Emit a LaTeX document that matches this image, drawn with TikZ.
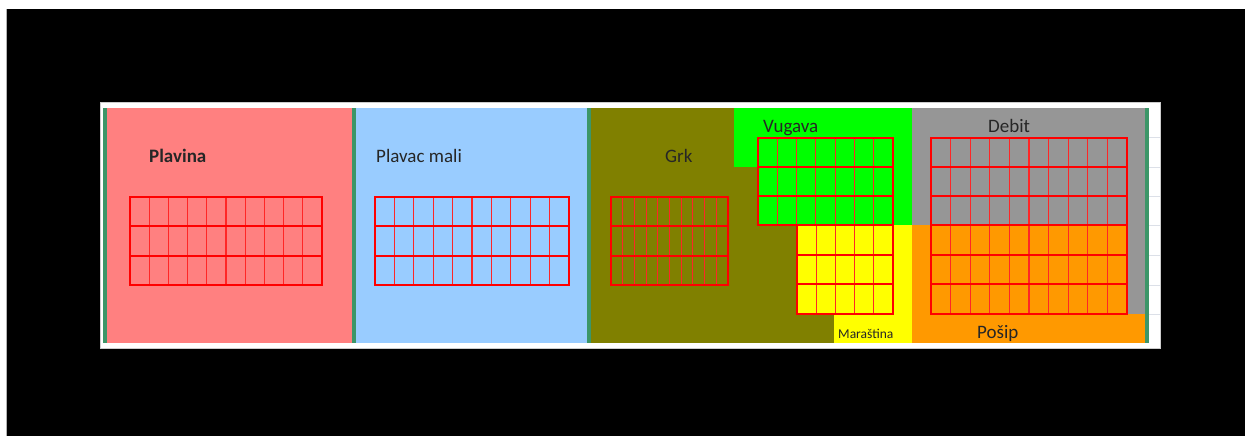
\documentclass[tikz,border=0pt]{standalone}
\usepackage{fontspec}
\setmainfont{Carlito}
\definecolor{cpink}{HTML}{FF8080}
\definecolor{cblue}{HTML}{99CCFF}
\definecolor{colive}{HTML}{808000}
\definecolor{cgreen}{HTML}{00FF00}
\definecolor{cyellow}{HTML}{FFFF00}
\definecolor{cgrey}{HTML}{969696}
\definecolor{corange}{HTML}{FF9900}
\definecolor{csep}{HTML}{3C9668}
\definecolor{ctext}{HTML}{262626}
\definecolor{cfaint}{HTML}{DCE0E8}
\tikzset{
  rowline/.style={draw=red, line width=2pt},
  colline/.style={draw=red!85!white, line width=1.1pt},
  lbl/.style={anchor=base west, inner sep=0pt, text=ctext, font=\fontsize{19}{22}\selectfont},
  smalllbl/.style={anchor=base west, inner sep=0pt, text=ctext, font=\fontsize{13.5}{16}\selectfont},
}
\newcommand\vgrid[6]{%
  \pgfmathtruncatemacro\vgc{#5-1}%
  \pgfmathtruncatemacro\vgr{#6-1}%
  \foreach \k in {1,...,\vgc}{\draw[colline] ({#1+(#3-#1)*\k/#5},#2) -- ({#1+(#3-#1)*\k/#5},#4);}%
  \foreach \k in {1,...,\vgr}{\draw[rowline] (#1,{#2+(#4-#2)*\k/#6}) -- (#3,{#2+(#4-#2)*\k/#6});}%
  \draw[rowline] (#1,#2) rectangle (#3,#4);%
}
\begin{document}
\begin{tikzpicture}[x=1pt,y=-1pt]
\useasboundingbox (0,0) rectangle (1245,436);
\fill[white] (0,0) rectangle (1245,436);
\fill[black] (7,9) rectangle (1245,436);
\fill[gray!60] (5.5,9) rectangle (7,436);
% panel
\fill[white] (100,102) rectangle (1160,348);
\draw[gray!40, line width=0.6pt] (100,102) rectangle (1160,348);
\foreach \yy in {137,167,196,225,255,285,314}{\draw[cfaint, line width=0.8pt] (1149,\yy) -- (1160,\yy);}
% colour regions
\fill[cpink] (107,108) rectangle (352,343);
\fill[cblue] (356,108) rectangle (587,343);
\fill[colive] (591,108) rectangle (912,343);
\fill[cgreen] (734,108) rectangle (912,167);
\fill[cgreen] (758,167) rectangle (912,225);
\fill[cyellow] (797,225) rectangle (912,314);
\fill[cyellow] (834,314) rectangle (912,343);
\fill[cgrey] (912,108) rectangle (1145,225);
\fill[cgrey] (1127,225) rectangle (1145,314);
\fill[corange] (912,225) rectangle (1127,314);
\fill[corange] (912,314) rectangle (1145,343);
% separators
\fill[csep] (103,108) rectangle (107,343);
\fill[csep] (352,108) rectangle (356,343);
\fill[csep] (587,108) rectangle (591,343);
\fill[csep] (1145,108) rectangle (1149,343);
% grids
\vgrid{130}{197}{322}{285}{10}{3}
\vgrid{375}{197}{569}{285}{10}{3}
\vgrid{611}{197}{728}{285}{10}{3}
\vgrid{758}{138}{893}{225}{7}{3}
\vgrid{797}{225}{893}{314}{5}{3}
\vgrid{931}{138}{1127}{225}{10}{3}
\vgrid{931}{225}{1127}{314}{10}{3}
% labels
\node[lbl, font=\fontsize{19}{22}\selectfont\bfseries] (plavina) at (149,162) {Plavina};
\node[lbl] (plavac) at (376,162) {Plavac mali};
\node[lbl] (grk) at (665,162) {Grk};
\node[lbl] (vugava) at (763,132) {Vugava};
\node[lbl] (debit) at (988,132) {Debit};
\node[lbl] (posip) at (977,338) {Pošip};
\node[smalllbl] (marastina) at (838,338) {Maraština};
\end{tikzpicture}
\end{document}
